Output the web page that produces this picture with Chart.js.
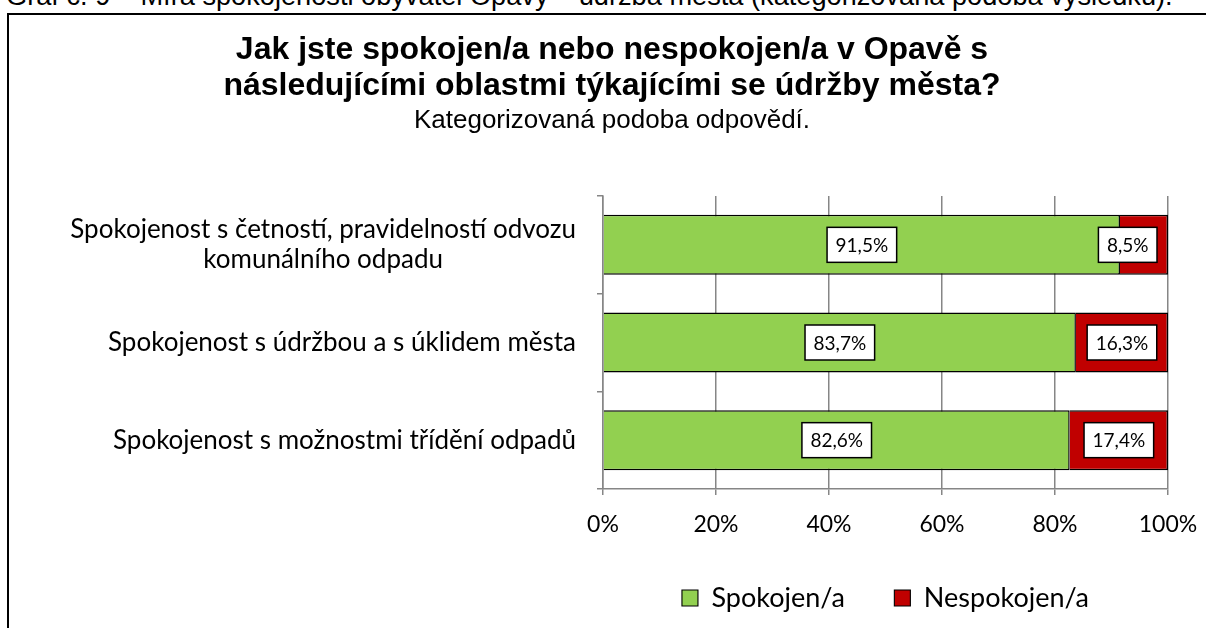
<!DOCTYPE html>
<html>
<head>
<meta charset="utf-8">
<script src="https://cdn.jsdelivr.net/npm/chart.js@4.4.1/dist/chart.umd.min.js"></script>
<style>
  html, body { margin: 0; padding: 0; background: #fff; overflow: hidden; width: 1206px; height: 628px; }
  #caption { position: absolute; left: 6px; top: -18px; font: 27.2px/27.2px "Liberation Sans", Arial, sans-serif; white-space: nowrap; color: #000; }
  #frame { position: absolute; left: 7px; top: 13px; width: 1300px; height: 700px; border-left: 2px solid #000; border-top: 2px solid #000; }
  #wrap { position: absolute; left: 9px; top: 15px; width: 1206px; height: 613px; }
</style>
</head>
<body>
<div id="caption">Graf č. 9 – Míra spokojenosti obyvatel Opavy – údržba města (kategorizovaná podoba výsledků).</div>
<div id="frame"></div>
<div id="wrap"><canvas id="chart" width="1206" height="613"></canvas></div>
<script>
const titleLines = ['Jak jste spokojen/a nebo nespokojen/a v Opavě s', 'následujícími oblastmi týkajícími se údržby města?'];
const subtitleText = 'Kategorizovaná podoba odpovědí.';

const categories = [
  ['Spokojenost s četností, pravidelností odvozu', 'komunálního odpadu'],
  'Spokojenost s údržbou a s úklidem města',
  'Spokojenost s možnostmi třídění odpadů'
];
const seriesNames = ['Spokojen/a', 'Nespokojen/a'];
const spokojen = [91.5, 83.7, 82.6];
const nespokojen = [8.5, 16.3, 17.4];

Chart.defaults.font.family = 'Lato, sans-serif';
Chart.defaults.color = '#000';

const gridGray = '#868686';
const barBorder = { top: 1.5, bottom: 1.5, left: 0, right: 1.5 };

function fmtPct(v) {
  return v.toFixed(1).replace('.', ',') + '%';
}

// category labels: block right aligned, lines centred inside the block
const yLabels = {
  id: 'yLabels',
  afterDraw(chart) {
    const ctx = chart.ctx;
    const ys = chart.scales.y;
    ctx.save();
    ctx.font = '26px Lato';
    ctx.fillStyle = '#000';
    ctx.textAlign = 'center';
    ctx.textBaseline = 'middle';
    categories.forEach((lab, i) => {
      const lines = Array.isArray(lab) ? lab : [lab];
      const w = Math.max(...lines.map(l => ctx.measureText(l).width));
      const cx = ys.right - 27 - w / 2;
      const y0 = ys.getPixelForValue(i) - (lines.length - 1) * 15;
      lines.forEach((l, j) => ctx.fillText(l, cx, y0 + j * 30));
    });
    ctx.restore();
  }
};

// white value boxes in the middle of each segment
const valueBoxes = {
  id: 'valueBoxes',
  afterDatasetsDraw(chart) {
    const ctx = chart.ctx;
    const area = chart.chartArea;
    ctx.save();
    ctx.font = '19px Lato';
    ctx.textAlign = 'center';
    ctx.textBaseline = 'middle';
    chart.data.datasets.forEach((ds, di) => {
      chart.getDatasetMeta(di).data.forEach((bar, i) => {
        const { x, y, base } = bar.getProps(['x', 'y', 'base'], true);
        const txt = fmtPct(ds.data[i]);
        const w = ctx.measureText(txt).width + 17;
        const h = 35;
        let cx = (x + base) / 2;
        cx = Math.min(cx, area.right - 11 - w / 2);
        ctx.fillStyle = '#fff';
        ctx.fillRect(cx - w / 2, y - h / 2, w, h);
        ctx.strokeStyle = '#000';
        ctx.lineWidth = 1.5;
        ctx.strokeRect(cx - w / 2, y - h / 2, w, h);
        ctx.fillStyle = '#000';
        ctx.fillText(txt, cx, y + 1);
      });
    });
    ctx.restore();
  }
};

new Chart(document.getElementById('chart'), {
  type: 'bar',
  data: {
    labels: categories,
    datasets: [
      {
        label: seriesNames[0],
        data: spokojen,
        backgroundColor: '#92d050',
        borderColor: '#000',
        borderWidth: barBorder,
        borderSkipped: false
      },
      {
        label: seriesNames[1],
        data: nespokojen,
        backgroundColor: '#c00000',
        borderColor: '#000',
        borderWidth: barBorder,
        borderSkipped: false
      }
    ]
  },
  options: {
    responsive: false,
    animation: false,
    indexAxis: 'y',
    categoryPercentage: 1,
    barPercentage: 0.614,
    layout: { padding: { bottom: 6.5 } },
    plugins: {
      title: {
        display: true,
        text: titleLines,
        color: '#000',
        font: { family: '"Liberation Sans", Arial, sans-serif', size: 32, weight: 'bold', lineHeight: 1.1 },
        padding: { top: 18, bottom: 2 }
      },
      subtitle: {
        display: true,
        text: subtitleText,
        color: '#000',
        font: { family: '"Liberation Sans", Arial, sans-serif', size: 26, weight: 'normal', lineHeight: 1.2 },
        padding: { top: 0, bottom: 59.4 }
      },
      legend: {
        position: 'bottom',
        fullSize: false,
        labels: { color: '#000', font: { size: 27 }, boxWidth: 16, boxHeight: 16, padding: 49.5 }
      },
      tooltip: { enabled: false }
    },
    scales: {
      x: {
        stacked: true,
        min: 0,
        max: 100,
        ticks: { stepSize: 20, callback: v => v + '%', color: '#000', font: { size: 23 }, padding: 16, maxRotation: 0 },
        grid: { color: gridGray, lineWidth: 1.5, tickLength: 6 },
        border: { color: gridGray, width: 1.5 },
        afterFit(s) { s.height = 46; }
      },
      y: {
        stacked: true,
        ticks: { display: false },
        grid: { drawOnChartArea: false, color: gridGray, lineWidth: 1.5, tickLength: 6 },
        border: { color: gridGray, width: 1.5 },
        afterFit(s) { s.width = 594; }
      },
      yRight: {
        type: 'category',
        labels: ['', '', ''],
        position: 'right',
        grid: { display: false },
        ticks: { display: false },
        border: { display: false },
        afterFit(s) { s.width = 47; }
      }
    }
  },
  plugins: [yLabels, valueBoxes]
});
</script>
</body>
</html>
